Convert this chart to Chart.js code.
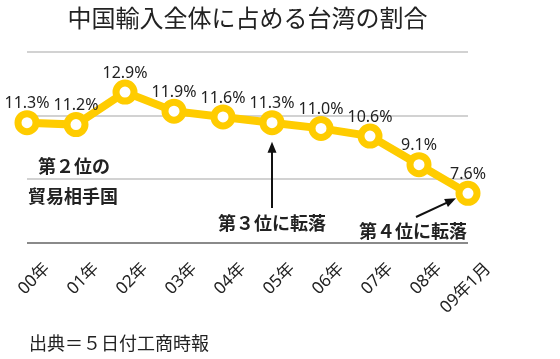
<!DOCTYPE html>
<html>
<head>
<meta charset="utf-8">
<script src="https://cdn.jsdelivr.net/npm/chart.js@4"></script>
<style>
  html, body { margin: 0; padding: 0; background: #fff; }
  #wrap { width: 560px; height: 359px; }
</style>
</head>
<body>
<div id="wrap"><canvas id="grafico"></canvas></div>
<script>
const categorias = ['00年', '01年', '02年', '03年', '04年', '05年', '06年', '07年', '08年', '09年1月'];
const porcentagens = [11.3, 11.2, 12.9, 11.9, 11.6, 11.3, 11.0, 10.6, 9.1, 7.6];
const rotulos = ['11.3%', '11.2%', '12.9%', '11.9%', '11.6%', '11.3%', '11.0%', '10.6%', '9.1%', '7.6%'];
const titulo = '中国輸入全体に占める台湾の割合';
const fonte = '出典＝５日付工商時報';

const FAMILIA = '"Noto Sans", "Noto Sans CJK JP", sans-serif';
const FAMILIA_JP = '"Noto Sans CJK JP", sans-serif';
const AMARELO = '#FFCC00';

function seta(ctx, x1, y1, x2, y2) {
    const ang = Math.atan2(y2 - y1, x2 - x1);
    const len = 11, larg = 4.5;
    ctx.save();
    ctx.strokeStyle = '#111';
    ctx.fillStyle = '#111';
    ctx.lineWidth = 2;
    ctx.beginPath();
    ctx.moveTo(x1, y1);
    ctx.lineTo(x2 - Math.cos(ang) * len * 0.8, y2 - Math.sin(ang) * len * 0.8);
    ctx.stroke();
    ctx.translate(x2, y2);
    ctx.rotate(ang);
    ctx.beginPath();
    ctx.moveTo(0, 0);
    ctx.lineTo(-len, -larg);
    ctx.lineTo(-len, larg);
    ctx.closePath();
    ctx.fill();
    ctx.restore();
}

const textos = {
    id: 'textos',
    afterDatasetsDraw(chart) {
        const ctx = chart.ctx;
        const area = chart.chartArea;
        const x = chart.scales.x;
        const pontos = chart.getDatasetMeta(0).data;

        ctx.save();
        ctx.fillStyle = '#222';
        ctx.textAlign = 'center';
        ctx.textBaseline = 'middle';

        // titulo
        ctx.font = '24px ' + FAMILIA_JP;
        ctx.fillText(titulo, (area.left + area.right) / 2, 18);

        // rotulos dos valores
        ctx.font = '16px ' + FAMILIA;
        pontos.forEach((p, i) => {
            ctx.fillText(rotulos[i], p.x, p.y - 19);
        });

        // rotulos do eixo x
        ctx.font = '17px ' + FAMILIA;
        ctx.textAlign = 'right';
        categorias.forEach((c, i) => {
            const px = x.getPixelForTick(i);
            ctx.save();
            ctx.translate(px + 20, 266);
            ctx.rotate(-Math.PI / 4);
            ctx.fillText(c, 0, 0);
            ctx.restore();
        });

        // anotacoes
        ctx.textAlign = 'center';
        ctx.font = 'bold 18px ' + FAMILIA_JP;
        ctx.fillText('第２位の', 74, 166);
        ctx.fillText('貿易相手国', 73, 196);
        const p5 = pontos[5], p9 = pontos[9];
        ctx.fillText('第３位に転落', p5.x, 223);
        ctx.fillText('第４位に転落', 413, 231);
        seta(ctx, p5.x, 208, p5.x, p5.y + 19);
        seta(ctx, 416, 217, p9.x - 12, p9.y + 5);

        // fonte
        ctx.textAlign = 'left';
        ctx.font = '18px ' + FAMILIA_JP;
        ctx.fillText(fonte, 29, 343);
        ctx.restore();
    }
};

function inicializarGrafico() {
    const ctx = document.getElementById('grafico').getContext('2d');
    return new Chart(ctx, {
        type: 'line',
        data: {
            labels: categorias,
            datasets: [{
                data: porcentagens,
                borderColor: AMARELO,
                borderWidth: 8,
                pointRadius: 9,
                pointBorderWidth: 7,
                pointBackgroundColor: '#fff',
                pointBorderColor: AMARELO,
                tension: 0,
                clip: false
            }]
        },
        options: {
            responsive: true,
            maintainAspectRatio: false,
            animation: false,
            layout: { padding: { left: 27, right: 92, top: 52, bottom: 116 } },
            plugins: {
                legend: { display: false },
                title: { display: false },
                tooltip: { enabled: false }
            },
            scales: {
                x: {
                    display: false,
                    offset: false
                },
                y: {
                    min: 5,
                    max: 15,
                    afterBuildTicks(scale) {
                        scale.ticks = [5, 25 / 3, 35 / 3, 15].map(v => ({ value: v }));
                    },
                    ticks: { display: false },
                    border: { display: false },
                    grid: {
                        drawTicks: false,
                        lineWidth: 2,
                        color: c => c.index === 0 ? '#8a8a8a' : '#d2d2d2'
                    }
                }
            }
        },
        plugins: [textos]
    });
}

inicializarGrafico();
</script>
</body>
</html>
